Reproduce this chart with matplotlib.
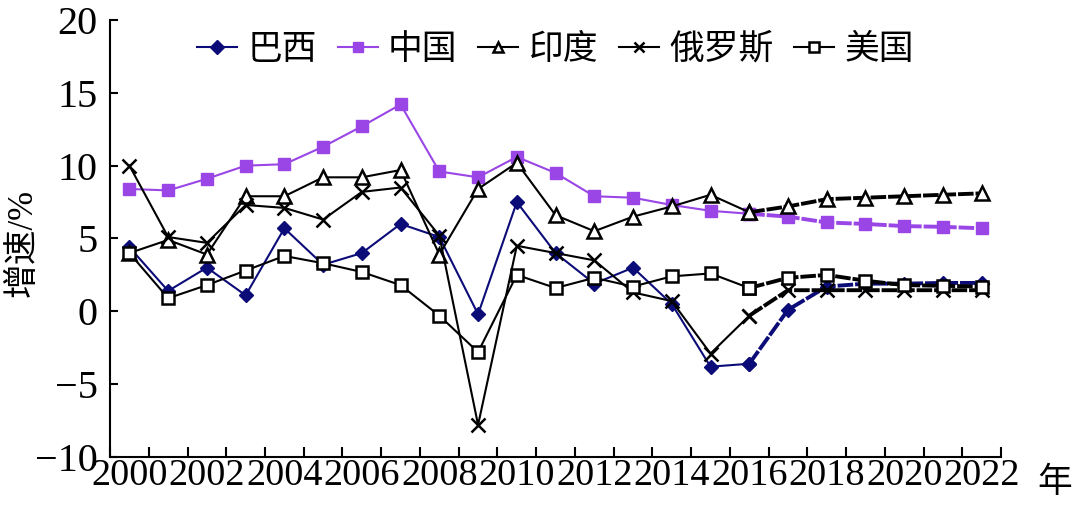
import matplotlib
matplotlib.use("Agg")
import matplotlib.pyplot as plt
import numpy as np

plt.rcParams['font.family'] = ['Liberation Serif', 'Noto Sans CJK SC', 'DejaVu Sans']

years = list(range(2000, 2023))
tick_labels = [str(y) if y % 2 == 0 else "" for y in years]
forecast_start = 2016

brazil = [4.4, 1.4, 3.0, 1.1, 5.7, 3.2, 4.0, 6.0, 5.1, -0.2, 7.5,
          4.0, 1.9, 3.0, 0.5, -3.8, -3.6, 0.1, 1.7, 1.9, 1.9, 1.95, 1.95]
china = [8.4, 8.3, 9.1, 10.0, 10.1, 11.3, 12.7, 14.2, 9.6, 9.2, 10.6,
         9.5, 7.9, 7.8, 7.3, 6.9, 6.7, 6.5, 6.1, 6.0, 5.85, 5.8, 5.7]
india = [4.0, 4.9, 3.9, 7.9, 7.9, 9.2, 9.2, 9.7, 3.9, 8.4, 10.2,
         6.6, 5.5, 6.5, 7.2, 8.0, 6.8, 7.2, 7.7, 7.8, 7.9, 8.0, 8.1]
russia = [10.0, 5.1, 4.7, 7.3, 7.1, 6.3, 8.2, 8.5, 5.2, -7.8, 4.5,
          4.0, 3.5, 1.3, 0.7, -2.9, -0.3, 1.45, 1.45, 1.45, 1.45, 1.45, 1.45]
usa = [4.0, 0.9, 1.8, 2.8, 3.8, 3.3, 2.7, 1.8, -0.3, -2.8, 2.5,
       1.6, 2.3, 1.7, 2.4, 2.6, 1.6, 2.3, 2.5, 2.1, 1.8, 1.75, 1.7]

series = [
    ("巴西", brazil, dict(color="#0c0c78", marker="D", markersize=7,
                         markerfacecolor="#0c0c78", markeredgecolor="#0c0c78")),
    ("中国", china, dict(color="#9a45e6", marker="s", markersize=9,
                        markerfacecolor="#9a45e6", markeredgecolor="#9a45e6")),
    ("印度", india, dict(color="black", marker="^", markersize=10,
                        markerfacecolor="white", markeredgecolor="black", markeredgewidth=1.8)),
    ("俄罗斯", russia, dict(color="black", marker="x", markersize=10,
                          markeredgecolor="black", markeredgewidth=1.8)),
    ("美国", usa, dict(color="black", marker="s", markersize=9,
                      markerfacecolor="white", markeredgecolor="black", markeredgewidth=1.8)),
]

fig = plt.figure(figsize=(10.8, 5.09), dpi=100)
ax = fig.add_axes([0.1019, 0.1022, 0.825, 0.8585])

x = np.arange(len(years))
k = years.index(forecast_start)

for name, vals, style in series:
    vals = np.array(vals)
    # solid history part
    ax.plot(x[:k + 1], vals[:k + 1], linewidth=1.5, label=name, **style)
    # thicker dashed projection part
    ax.plot(x[k:], vals[k:], linewidth=2.8, linestyle=(0, (4, 0.5)), **style)

ax.set_xlim(-0.5, len(years) - 0.5)
ax.set_ylim(-10, 20)
ax.set_yticks([-10, -5, 0, 5, 10, 15, 20])

ax.set_xticks(x)
ax.set_xticklabels(tick_labels)
ax.set_xticks(np.arange(len(years) + 1) - 0.5, minor=True)
ax.tick_params(axis='x', which='major', length=0, labelsize=27.5, pad=1)
ax.tick_params(axis='x', which='minor', direction='in', length=7, width=1.5)
ax.tick_params(axis='y', direction='in', length=6, width=1.5, labelsize=29, pad=9)

for s in ['top', 'right']:
    ax.spines[s].set_visible(False)
for s in ['left', 'bottom']:
    ax.spines[s].set_linewidth(1.5)

ax.set_ylabel("增速/%", fontsize=25)
ax.yaxis.set_label_coords(-0.079, 0.49)

fig.text(0.977, 0.052, "年", fontsize=25, ha='center', va='center',
         family=['Noto Sans CJK SC'])

leg = ax.legend(loc='upper center', bbox_to_anchor=(0.5, 1.0), ncol=5,
                frameon=False, fontsize=25, handlelength=1.15,
                handletextpad=0.3, columnspacing=0.6, borderaxespad=0)
for h in leg.legend_handles:
    h.set_markersize(7)

fig.savefig("out.png", dpi=100)
